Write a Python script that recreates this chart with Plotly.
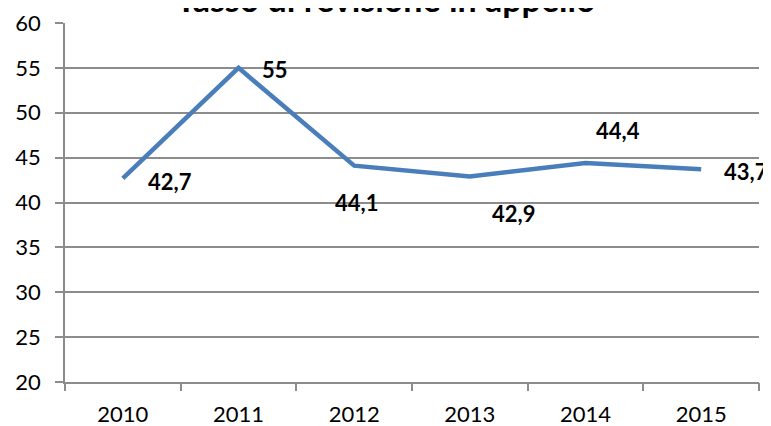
import plotly.graph_objects as go

years = ["2010", "2011", "2012", "2013", "2014", "2015"]
values = [42.7, 55, 44.1, 42.9, 44.4, 43.7]
labels = ["42,7", "55", "44,1", "42,9", "44,4", "43,7"]
title = "Tasso di revisione in appello"

# label offsets (pixels) relative to each point
label_dx = [47, 36, 2, 44, 32, 45]
label_dy = [-3, -2, -37, -37, 33, -2]

FONT = "Lato, 'Open Sans', sans-serif"
GRID = "#8c8c8c"

fig = go.Figure()
fig.add_trace(go.Scatter(
    x=list(range(len(years))), y=values, mode="lines",
    line=dict(color="#4a7ebb", width=4.5),
    hoverinfo="skip", showlegend=False,
))

for i, (v, t, dx, dy) in enumerate(zip(values, labels, label_dx, label_dy)):
    fig.add_annotation(x=i, y=v, xref="x", yref="y", text="<b>%s</b>" % t,
                       showarrow=False, xshift=dx, yshift=dy,
                       font=dict(family=FONT, size=22, color="black"))

fig.add_annotation(x=(386 - 65) / 694, y=1, xref="paper", yref="paper",
                   text="<b>%s</b>" % title,
                   showarrow=False, yanchor="bottom", xanchor="center", yshift=2,
                   font=dict(family=FONT, size=34, color="black"))

# the page body adds an 8px offset; margins compensate so the plot area
# sits at x 65..759, y 23..382 in the window
fig.update_layout(
    width=771, height=426,
    margin=dict(l=57, r=20, t=15, b=52),
    paper_bgcolor="white", plot_bgcolor="white",
    xaxis=dict(range=[-0.5, 5.5], tickvals=list(range(len(years))), ticktext=years,
               ticks="", showline=True, linecolor=GRID, linewidth=1.5,
               showgrid=False, zeroline=False, automargin=False,
               ticklabelstandoff=12,
               tickfont=dict(family=FONT, size=22, color="black")),
    yaxis=dict(range=[20, 60], dtick=5, ticks="outside", ticklen=8,
               tickcolor=GRID, tickwidth=1.5,
               showline=True, linecolor=GRID, linewidth=1.5, automargin=False,
               showgrid=True, gridcolor=GRID, gridwidth=1.5, zeroline=False,
               ticklabelstandoff=10,
               tickfont=dict(family=FONT, size=22, color="black")),
)

# tick marks at category boundaries on the x axis
fig.update_layout(xaxis2=dict(overlaying="x", range=[-0.5, 5.5],
                              tickvals=[b - 0.5 for b in range(len(years) + 1)],
                              ticktext=[""] * (len(years) + 1), ticks="outside",
                              ticklen=8, tickcolor=GRID, tickwidth=1.5,
                              showgrid=False, zeroline=False, automargin=False,
                              anchor="y", side="bottom", showline=False))
fig.add_trace(go.Scatter(x=[0], y=[None], xaxis="x2", showlegend=False,
                         hoverinfo="skip"))

fig.write_html("out.html")
